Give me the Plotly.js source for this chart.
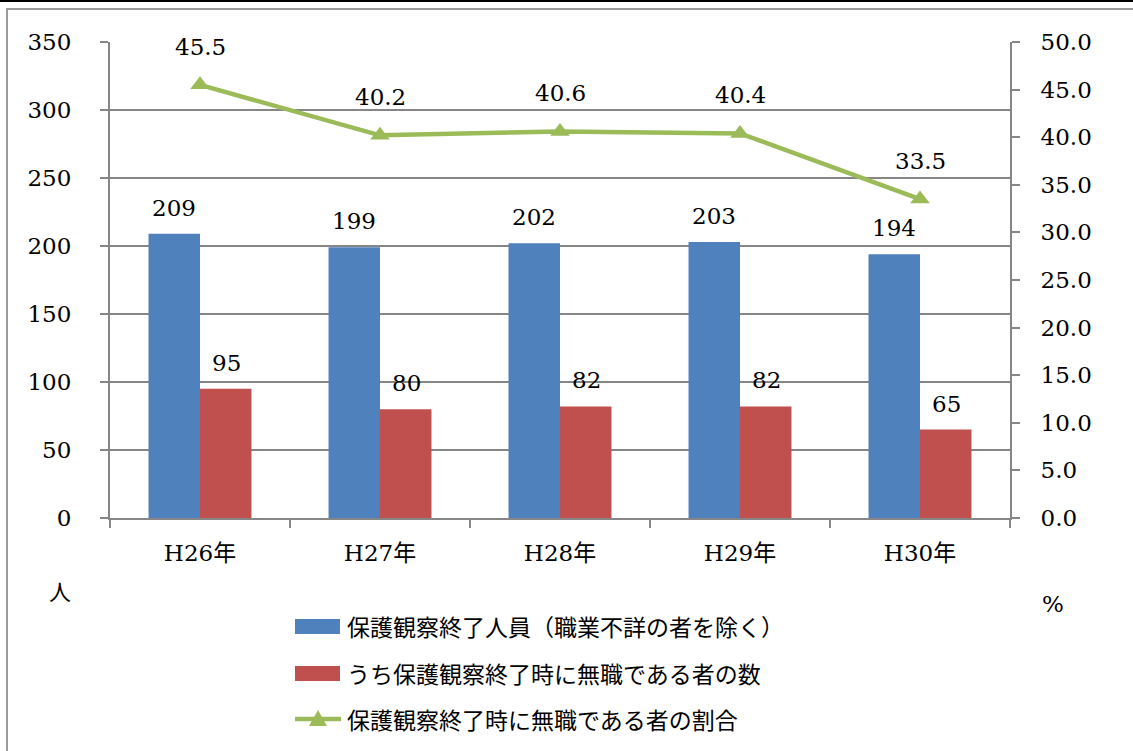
<!DOCTYPE html>
<html>
<head>
<meta charset="utf-8">
<script src="https://cdn.plot.ly/plotly-3.0.1.min.js"></script>
<style>html,body{margin:0;padding:0;background:#fff;}#chart{width:1133px;height:751px;}</style>
</head>
<body>
<div id="chart"></div>
<script>
// ---- data ----
const categories = ['H26年', 'H27年', 'H28年', 'H29年', 'H30年'];
const totalReleased = [209, 199, 202, 203, 194];
const joblessCount = [95, 80, 82, 82, 65];
const joblessRate = [45.5, 40.2, 40.6, 40.4, 33.5];
const seriesNames = [
  '保護観察終了人員（職業不詳の者を除く）',
  'うち保護観察終了時に無職である者の数',
  '保護観察終了時に無職である者の割合'
];
const leftTicks = [0, 50, 100, 150, 200, 250, 300, 350];
const rightTicks = [0, 5, 10, 15, 20, 25, 30, 35, 40, 45, 50];

const BLUE = '#4F81BD', RED = '#C0504D', GREEN = '#9BBB59', GRID = '#868686';
const NUM_FONT = 'DejaVu Serif, Noto Sans CJK JP, serif';
const JP_FONT = 'Noto Sans CJK JP, sans-serif';
const FS = 23;

// plot area in pixels
const W = 1133, H = 751, L = 110, R = 1010, T = 42, B = 518;
const px = x => (x - L) / (R - L);
const py = y => (B - y) / (B - T);

const traces = [
  {type: 'bar', name: seriesNames[0], x: categories, y: totalReleased,
   marker: {color: BLUE}, yaxis: 'y', showlegend: false, hoverinfo: 'y'},
  {type: 'bar', name: seriesNames[1], x: categories, y: joblessCount,
   marker: {color: RED}, yaxis: 'y', showlegend: false, hoverinfo: 'y'},
  {type: 'scatter', mode: 'lines+markers', name: seriesNames[2], x: categories, y: joblessRate,
   yaxis: 'y2', line: {color: GREEN, width: 4.5},
   marker: {symbol: 'triangle-up', size: 17, color: GREEN}, showlegend: false, hoverinfo: 'y'}
];

const annotations = [];
categories.forEach((c, i) => {
  annotations.push({x: c, y: totalReleased[i], xref: 'x', yref: 'y', xshift: -26, yshift: 11,
    xanchor: 'center', yanchor: 'bottom', text: String(totalReleased[i]), showarrow: false,
    font: {family: NUM_FONT, size: FS, color: '#000'}});
  annotations.push({x: c, y: joblessCount[i], xref: 'x', yref: 'y', xshift: 26, yshift: 11,
    xanchor: 'center', yanchor: 'bottom', text: String(joblessCount[i]), showarrow: false,
    font: {family: NUM_FONT, size: FS, color: '#000'}});
  annotations.push({x: c, y: joblessRate[i], xref: 'x', yref: 'y2', yshift: 23,
    xanchor: 'center', yanchor: 'bottom', text: joblessRate[i].toFixed(1), showarrow: false,
    font: {family: NUM_FONT, size: FS, color: '#000'}});
});
// axis unit labels
annotations.push({xref: 'paper', yref: 'paper', x: px(60), y: py(590), xanchor: 'center', yanchor: 'middle',
  text: '人', showarrow: false, font: {family: JP_FONT, size: 22, color: '#000'}});
annotations.push({xref: 'paper', yref: 'paper', x: px(1053), y: py(604), xanchor: 'center', yanchor: 'middle',
  text: '%', showarrow: false, font: {family: NUM_FONT, size: FS, color: '#000'}});

// manual legend
const legendRows = [626, 673, 719];
const shapes = [
  // outer frame
  {type: 'rect', xref: 'paper', yref: 'paper', x0: px(7), x1: px(1140), y0: py(9), y1: py(760),
   line: {color: '#9a9a9a', width: 2}, fillcolor: 'rgba(0,0,0,0)', layer: 'below'},
  {type: 'line', xref: 'paper', yref: 'paper', x0: px(-5), x1: px(1140), y0: py(0.5), y1: py(0.5),
   line: {color: '#000', width: 3}},
  {type: 'rect', xref: 'paper', yref: 'paper', x0: px(295), x1: px(340), y0: py(legendRows[0] - 7), y1: py(legendRows[0] + 8),
   fillcolor: BLUE, line: {width: 0}},
  {type: 'rect', xref: 'paper', yref: 'paper', x0: px(295), x1: px(340), y0: py(legendRows[1] - 7), y1: py(legendRows[1] + 8),
   fillcolor: RED, line: {width: 0}},
  {type: 'line', xref: 'paper', yref: 'paper', x0: px(295), x1: px(341), y0: py(legendRows[2]), y1: py(legendRows[2]),
   line: {color: GREEN, width: 4.5}},
  {type: 'path', xref: 'paper', yref: 'paper',
   path: `M ${px(309)} ${py(legendRows[2] + 7)} L ${px(327)} ${py(legendRows[2] + 7)} L ${px(318)} ${py(legendRows[2] - 9)} Z`,
   fillcolor: GREEN, line: {width: 0}}
];
seriesNames.forEach((n, i) => {
  annotations.push({xref: 'paper', yref: 'paper', x: px(345), y: py(legendRows[i]), xanchor: 'left', yanchor: 'middle',
    text: n, showarrow: false, font: {family: JP_FONT, size: 23, color: '#000'}});
});

const layout = {
  width: W, height: H,
  margin: {l: L, r: W - R, t: T, b: H - B, pad: 0},
  paper_bgcolor: '#fff', plot_bgcolor: '#fff',
  barmode: 'group', bargap: 0.428, bargroupgap: 0,
  showlegend: false,
  xaxis: {type: 'category', showline: true, linecolor: GRID, linewidth: 2,
    ticks: 'outside', tickson: 'boundaries', ticklen: 8, tickcolor: GRID, tickwidth: 2,
    ticklabelstandoff: 13, showgrid: false,
    tickfont: {family: NUM_FONT, size: FS, color: '#000'}},
  yaxis: {range: [0, 350], tickvals: leftTicks, showline: true, linecolor: GRID, linewidth: 2,
    ticks: 'outside', ticklen: 8, tickcolor: GRID, tickwidth: 2, ticklabelstandoff: 24,
    showgrid: true, gridcolor: GRID, gridwidth: 1.5, zeroline: false,
    tickfont: {family: NUM_FONT, size: FS, color: '#000'}},
  yaxis2: {range: [0, 50], tickvals: rightTicks, ticktext: rightTicks.map(v => v.toFixed(1)),
    overlaying: 'y', side: 'right', showline: true, linecolor: GRID, linewidth: 2,
    ticks: 'outside', ticklen: 8, tickcolor: GRID, tickwidth: 2, ticklabelstandoff: 16,
    showgrid: false, zeroline: false,
    tickfont: {family: NUM_FONT, size: FS, color: '#000'}},
  annotations: annotations,
  shapes: shapes
};

Plotly.newPlot('chart', traces, layout, {displayModeBar: false, staticPlot: true});
</script>
</body>
</html>
